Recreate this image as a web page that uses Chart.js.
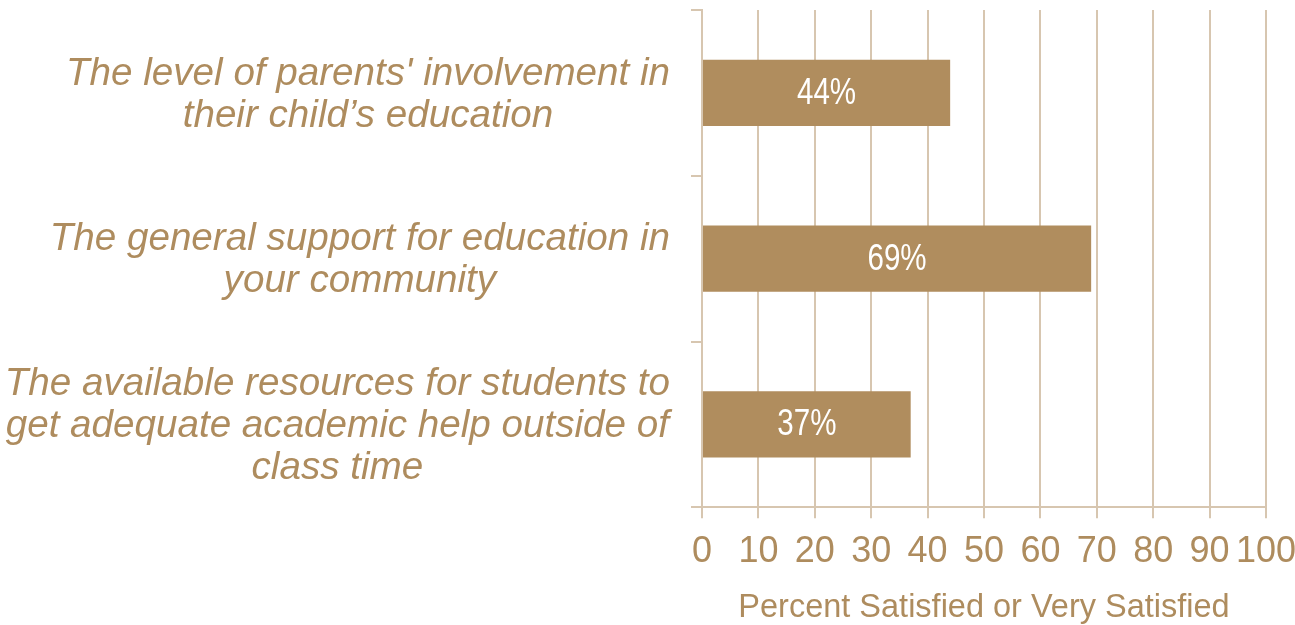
<!DOCTYPE html>
<html>
<head>
<meta charset="utf-8">
<script src="https://cdn.jsdelivr.net/npm/chart.js@4.4.0/dist/chart.umd.min.js"></script>
<style>
  html, body { margin: 0; padding: 0; background: #ffffff; }
  #wrap { width: 1295px; height: 625px; position: relative; }
</style>
</head>
<body>
<div id="wrap"><canvas id="canvas_satisfacao" width="1295" height="625"></canvas></div>
<script>
// dados do grafico
let categorias = [
  ["The level of parents' involvement in", "their child’s education"],
  ["The general support for education in", "your community"],
  ["The available resources for students to", "get adequate academic help outside of", "class time"]
];
let valores = [44, 69, 37];
let rotulos = ["44%", "69%", "37%"];
let tituloEixo = "Percent Satisfied or Very Satisfied";

let corBarra = "#B08D5E";
let corTexto = "#AE8C5E";
let corGrade = "#D7C6B0";
let fonte = "'Liberation Sans', Arial, sans-serif";

// rotulos das categorias: bloco alinhado a direita, linhas centradas
const rotulosCategoria = {
  id: "rotulosCategoria",
  afterDraw(chart) {
    let ctx = chart.ctx;
    let y = chart.scales.y;
    let direita = chart.chartArea.left - 32;
    let sx = 0.99;
    ctx.save();
    ctx.font = "italic 39px " + fonte;
    ctx.fillStyle = corTexto;
    ctx.textAlign = "center";
    ctx.textBaseline = "middle";
    categorias.forEach(function (linhas, i) {
      let largura = 0;
      linhas.forEach(function (l) {
        largura = Math.max(largura, ctx.measureText(l).width * sx);
      });
      let cx = direita - largura / 2;
      let cy = y.getPixelForTick(i) + 2;
      let alt = 42;
      let y0 = cy - (linhas.length - 1) * alt / 2;
      linhas.forEach(function (l, k) {
        ctx.save();
        ctx.translate(cx, y0 + k * alt);
        ctx.scale(sx, 1);
        ctx.fillText(l, 0, 0);
        ctx.restore();
      });
    });
    ctx.restore();
  }
};

// valores dentro das barras
const rotulosBarra = {
  id: "rotulosBarra",
  afterDatasetsDraw(chart) {
    let ctx = chart.ctx;
    let meta = chart.getDatasetMeta(0);
    ctx.save();
    ctx.font = "36px " + fonte;
    ctx.fillStyle = "#ffffff";
    ctx.textAlign = "center";
    ctx.textBaseline = "middle";
    meta.data.forEach(function (barra, i) {
      ctx.save();
      ctx.translate((barra.base + barra.x) / 2, barra.y + 1);
      ctx.scale(0.82, 1);
      ctx.fillText(rotulos[i], 0, 0);
      ctx.restore();
    });
    ctx.restore();
  }
};

var ctx = document.getElementById("canvas_satisfacao").getContext("2d");
window.satisfacao = new Chart(ctx, {
  type: "bar",
  data: {
    labels: categorias,
    datasets: [{
      data: valores,
      backgroundColor: corBarra,
      borderWidth: 0,
      barPercentage: 0.4,
      categoryPercentage: 1
    }]
  },
  options: {
    indexAxis: "y",
    responsive: false,
    animation: false,
    devicePixelRatio: 1,
    layout: { padding: { top: 10, bottom: 0, left: 0, right: 0 } },
    plugins: {
      legend: { display: false },
      tooltip: { enabled: false }
    },
    scales: {
      x: {
        min: 0,
        max: 100,
        ticks: {
          stepSize: 10,
          autoSkip: false,
          maxRotation: 0,
          minRotation: 0,
          color: corTexto,
          padding: 12,
          font: { family: fonte, size: 36 }
        },
        grid: { color: corGrade, lineWidth: 2, tickLength: 11, tickColor: corGrade },
        border: { color: corGrade, width: 2 },
        title: {
          display: true,
          text: tituloEixo,
          color: corTexto,
          font: { family: fonte, size: 32.5, lineHeight: 1 },
          padding: { top: 6, bottom: 1 }
        },
        afterFit: function (scale) {
          // sobra a direita so para o "100"
          let d = scale.paddingRight - 29;
          scale.paddingRight = 29;
          scale.paddingLeft = 0;
          scale.width += d;
        }
      },
      y: {
        ticks: { display: false },
        grid: { offset: true, drawOnChartArea: false, color: corGrade, lineWidth: 2, tickLength: 11 },
        border: { color: corGrade, width: 2 },
        afterFit: function (scale) { scale.width = 702; }
      }
    }
  },
  plugins: [rotulosCategoria, rotulosBarra]
});
</script>
</body>
</html>
